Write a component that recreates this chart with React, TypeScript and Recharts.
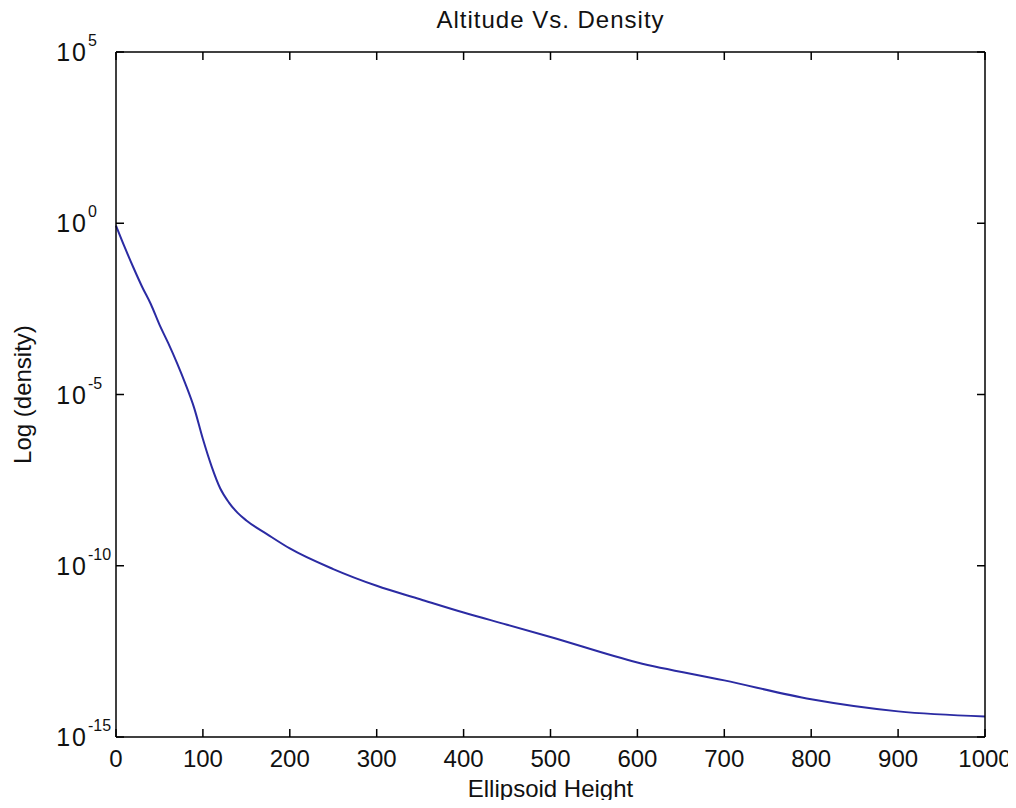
import { LineChart, Line, XAxis, YAxis, Label } from 'recharts';

// ellipsoid height (km) and density
const heights = [0, 10, 20, 30, 40, 50, 60, 70, 80, 90, 100, 110, 120, 130, 140, 150, 175, 200, 250, 300, 350, 400, 450, 500, 600, 700, 800, 900, 1000];
const densities = [
  0.85, 2e-1, 5.1e-2, 1.4e-2, 4.4e-3, 1.1e-3, 3.2e-4, 8.5e-5, 2e-5, 4e-6, 5e-7,
  8e-8, 1.8e-8, 7e-9, 3.5e-9, 2.1e-9, 8e-10, 3.2e-10, 8e-11,
  2.6e-11, 1.05e-11, 4.3e-12, 1.9e-12, 8.3e-13, 1.5e-13, 4.5e-14, 1.26e-14, 5.6e-15, 4e-15,
];
const xTicks = [0, 100, 200, 300, 400, 500, 600, 700, 800, 900, 1000];
const yTicks = [1e-15, 1e-10, 1e-5, 1, 1e5];

const data = heights.map((h, i) => ({ height: h, density: densities[i] }));

const FONT = '"Liberation Sans", Arial, sans-serif';
const TICK_LEN = 8;

const LeftTick = (props: any) => {
  const { x, y, payload } = props;
  const exp = Math.round(Math.log10(payload.value));
  return (
    <g>
      <line x1={x} y1={y} x2={x + TICK_LEN} y2={y} stroke="#000" strokeWidth={1.5} />
      <text x={x - 28} y={y + 9} textAnchor="end" fontSize={25} fontFamily={FONT} fill="#111" letterSpacing={2}>10</text>
      <text x={x - 28} y={y - 6} textAnchor="start" fontSize={16} fontFamily={FONT} fill="#111">
        {String(exp)}
      </text>
    </g>
  );
};

const RightTick = (props: any) => {
  const { x, y } = props;
  return <line x1={x} y1={y} x2={x - TICK_LEN} y2={y} stroke="#000" strokeWidth={1.5} />;
};

const BottomTick = (props: any) => {
  const { x, y, payload } = props;
  return (
    <g>
      <line x1={x} y1={y} x2={x} y2={y - TICK_LEN} stroke="#000" strokeWidth={1.5} />
      <text x={x} y={y + 30} textAnchor="middle" fontSize={24} fontFamily={FONT} fill="#111">
        {payload.value}
      </text>
    </g>
  );
};

const TopTick = (props: any) => {
  const { x, y } = props;
  return <line x1={x} y1={y} x2={x} y2={y + TICK_LEN} stroke="#000" strokeWidth={1.5} />;
};

const App = () => {
  return (
    <div style={{ width: 1016, height: 808, margin: -8, background: '#fff' }}>
      <LineChart
        width={1016}
        height={808}
        data={data}
        margin={{ top: 51, right: 30, left: 0, bottom: 0 }}
      >
        <XAxis
          dataKey="height"
          type="number"
          domain={[0, 1000]}
          ticks={xTicks}
          height={71}
          tickSize={0}
          tickMargin={0}
          tickLine={false}
          tick={<BottomTick />}
          axisLine={{ stroke: '#000', strokeWidth: 1.5 }}
          interval={0}
        >
          <Label
            content={({ viewBox }: any) => (
              <text
                x={viewBox.x + viewBox.width / 2}
                y={viewBox.y + 60}
                textAnchor="middle"
                fontSize={24}
                fontFamily={FONT}
                fill="#111"
              >
                Ellipsoid Height
              </text>
            )}
          />
        </XAxis>
        <XAxis
          xAxisId="top"
          orientation="top"
          dataKey="height"
          type="number"
          domain={[0, 1000]}
          ticks={xTicks}
          height={1}
          tickSize={0}
          tickMargin={0}
          tickLine={false}
          tick={<TopTick />}
          axisLine={{ stroke: '#000', strokeWidth: 1.5 }}
          interval={0}
        >
          <Label
            content={({ viewBox }: any) => (
              <text
                x={viewBox.x + viewBox.width / 2}
                y={viewBox.y - 23}
                textAnchor="middle"
                fontSize={24}
                fontFamily={FONT}
                fill="#111"
                letterSpacing={1}
              >
                Altitude Vs. Density
              </text>
            )}
          />
        </XAxis>
        <YAxis
          scale="log"
          type="number"
          domain={[1e-15, 1e5]}
          ticks={yTicks}
          width={116}
          tickSize={0}
          tickMargin={0}
          tickLine={false}
          tick={<LeftTick />}
          axisLine={{ stroke: '#000', strokeWidth: 1.5 }}
          allowDataOverflow
          interval={0}
        >
          <Label
            content={({ viewBox }: any) => {
              const cx = 31;
              const cy = viewBox.y + viewBox.height / 2;
              return (
                <text
                  x={cx}
                  y={cy}
                  transform={`rotate(-90 ${cx} ${cy})`}
                  textAnchor="middle"
                  fontSize={24}
                  fontFamily={FONT}
                  fill="#111"
                >
                  Log (density)
                </text>
              );
            }}
          />
        </YAxis>
        <YAxis
          yAxisId="right"
          orientation="right"
          scale="log"
          type="number"
          domain={[1e-15, 1e5]}
          ticks={yTicks}
          width={1}
          tickSize={0}
          tickMargin={0}
          tickLine={false}
          tick={<RightTick />}
          axisLine={{ stroke: '#000', strokeWidth: 1.5 }}
          allowDataOverflow
          interval={0}
        />
        {/* invisible copy so the top/right frame axes have a series */}
        <Line
          xAxisId="top"
          yAxisId="right"
          dataKey="density"
          stroke="none"
          dot={false}
          legendType="none"
          isAnimationActive={false}
        />
        <Line
          type="monotone"
          dataKey="density"
          stroke="#2b2ba3"
          strokeWidth={2}
          dot={false}
          isAnimationActive={false}
        />
      </LineChart>
    </div>
  );
};

export default App;
